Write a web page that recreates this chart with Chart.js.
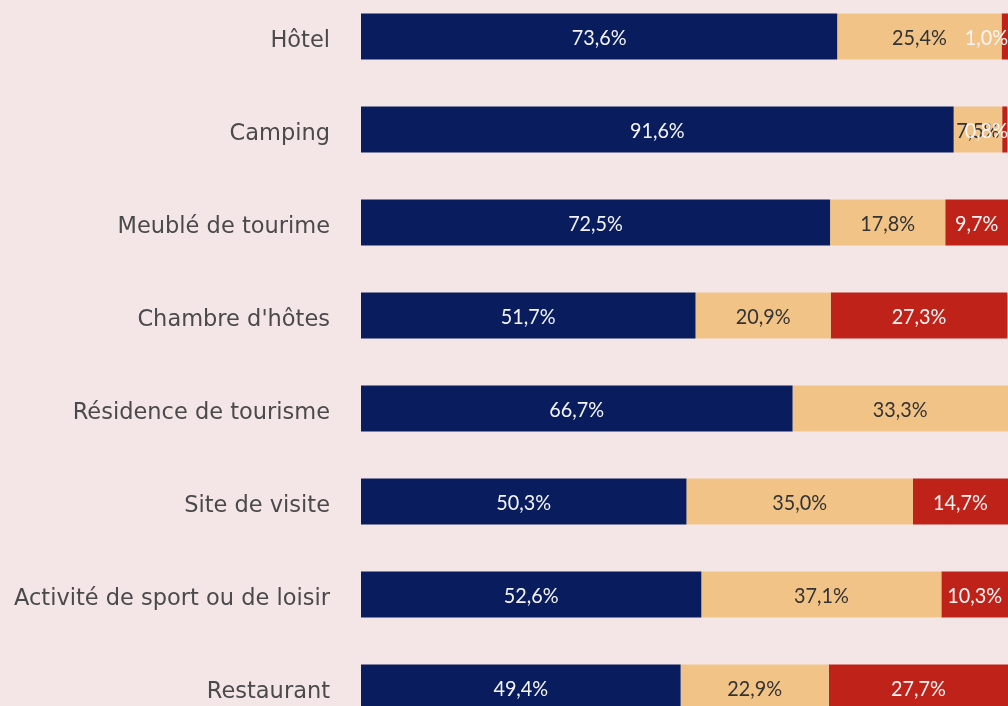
<!DOCTYPE html>
<html>
<head>
<meta charset="utf-8">
<script src="https://cdn.jsdelivr.net/npm/chart.js@4.4.0/dist/chart.umd.min.js"></script>
<style>
  html, body { margin: 0; padding: 0; background: #f4e6e7; overflow: hidden; width: 1008px; height: 706px; }
  #chart { position: absolute; left: 0; top: -10px; }
</style>
</head>
<body>
<canvas id="chart" width="1008" height="744"></canvas>
<script>
const categories = [
  "Hôtel", "Camping", "Meublé de tourime", "Chambre d'hôtes",
  "Résidence de tourisme", "Site de visite",
  "Activité de sport ou de loisir", "Restaurant"
]
const firstShare = [73.6, 91.6, 72.5, 51.7, 66.7, 50.3, 52.6, 49.4]
const secondShare = [25.4, 7.5, 17.8, 20.9, 33.3, 35.0, 37.1, 22.9]
const thirdShare = [1.0, 0.8, 9.7, 27.3, 0, 14.7, 10.3, 27.7]

const colors = ["#081c5e", "#f2c387", "#be2219"]
const labelColors = ["#f4f4f8", "#333333", "#f8f4f4"]

// percentage in each segment, kept inside the plot on the right
const valueLabels = {
  id: "valueLabels",
  afterDatasetsDraw(chart) {
    const ctx = chart.ctx
    const right = chart.chartArea.right
    const sx = 0.9
    ctx.save()
    ctx.font = '22px Lato, sans-serif'
    ctx.textBaseline = "middle"
    ctx.textAlign = "center"
    chart.data.datasets.forEach((ds, i) => {
      chart.getDatasetMeta(i).data.forEach((bar, j) => {
        const v = ds.data[j]
        if (!v) return
        const text = v.toFixed(1).replace(".", ",") + "%"
        const w = ctx.measureText(text).width * sx
        let x = (bar.x + bar.base) / 2
        if (x + w / 2 > right) x = right - w / 2
        ctx.save()
        ctx.translate(x, bar.y)
        ctx.scale(sx, 1)
        ctx.fillStyle = labelColors[i]
        ctx.fillText(text, 0, 1)
        ctx.restore()
      })
    })
    ctx.restore()
  }
}

new Chart(document.getElementById("chart"), {
  type: "bar",
  data: {
    labels: categories,
    datasets: [firstShare, secondShare, thirdShare].map((d, i) => ({
      data: d,
      backgroundColor: colors[i],
      borderWidth: 0,
      barPercentage: 0.495,
      categoryPercentage: 1
    }))
  },
  options: {
    indexAxis: "y",
    responsive: false,
    animation: false,
    layout: { padding: 0 },
    plugins: { legend: { display: false }, tooltip: { enabled: false } },
    scales: {
      x: {
        stacked: true,
        min: 0,
        max: 100,
        display: false
      },
      y: {
        stacked: true,
        grid: { display: false, drawTicks: false },
        border: { display: false },
        afterFit: s => {
          s.width = 361
          s.paddingTop = 0
          s.paddingBottom = 0
        },
        ticks: {
          padding: 31,
          labelOffset: 5,
          color: "#4a4a4a",
          font: { family: "'DejaVu Sans', sans-serif", size: 22.5 }
        }
      }
    }
  },
  plugins: [valueLabels]
})
</script>
</body>
</html>
